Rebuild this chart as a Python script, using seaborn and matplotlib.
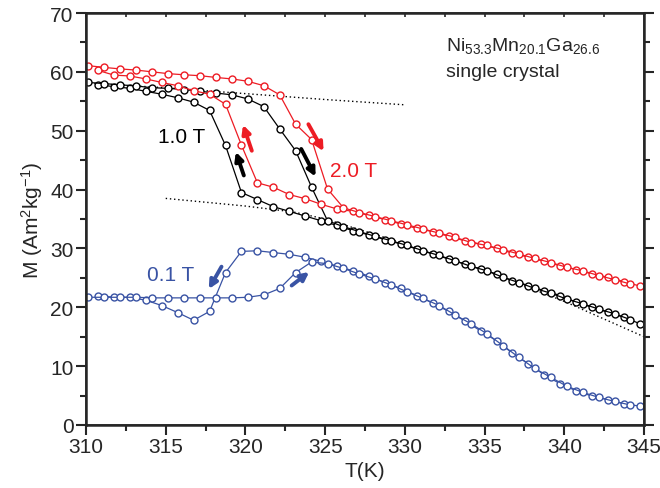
import matplotlib
matplotlib.use("Agg")
import matplotlib.pyplot as plt
import numpy as np
import pandas as pd
import seaborn as sns
from matplotlib.ticker import MultipleLocator

# temperatures of the two sweeps (heating / cooling), K
T_heat = [310.15, 311.15, 312.15, 313.15, 314.15, 315.15, 316.15, 317.15, 318.15, 319.15,
          320.15, 321.15, 322.15, 323.15, 324.15, 325.15, 326.15, 327.15, 328.15, 329.15,
          330.15, 331.15, 332.15, 333.15, 334.15, 335.15, 336.15, 337.15, 338.15, 339.15,
          340.15, 341.15, 342.15, 343.15, 344.15]
T_cool = [310.75, 311.75, 312.75, 313.75, 314.75, 315.75, 316.75, 317.75, 318.75, 319.75,
          320.75, 321.75, 322.75, 323.75, 324.75, 325.75, 326.75, 327.75, 328.75, 329.75,
          330.75, 331.75, 332.75, 333.75, 334.75, 335.75, 336.75, 337.75, 338.75, 339.75,
          340.75, 341.75, 342.75, 343.75, 344.75]

# 1.0 T
M10_heat = [58.2, 58.0, 57.8, 57.6, 57.3, 57.2, 57.0, 56.7, 56.4, 56.1,
            55.4, 54.1, 50.3, 46.6, 40.4, 34.7, 33.7, 32.85, 32.05, 31.3,
            30.5, 29.6, 28.8, 27.9, 26.95, 26.2, 25.1, 24.2, 23.2, 22.4,
            21.4, 20.6, 19.7, 18.9, 17.9]
M10_cool = [57.8, 57.5, 57.2, 56.7, 56.2, 55.6, 54.85, 53.45, 47.5, 39.5,
            38.3, 37.1, 36.3, 35.5, 34.7, 33.9, 33.0, 32.3, 31.5, 30.75,
            29.9, 29.05, 28.2, 27.35, 26.5, 25.65, 24.5, 23.7, 22.8, 22.0,
            20.85, 20.0, 19.15, 18.3, 17.2]
# 2.0 T
M20_heat = [61.05, 60.75, 60.5, 60.3, 60.0, 59.7, 59.5, 59.35, 59.05, 58.8,
            58.4, 57.65, 56.1, 51.1, 48.5, 40.1, 36.9, 36.1, 35.4, 34.7,
            34.0, 33.3, 32.6, 31.9, 31.0, 30.5, 29.8, 29.05, 28.3, 27.6,
            26.8, 26.2, 25.4, 24.7, 23.95]
M20_cool = [60.25, 59.45, 59.3, 58.8, 58.2, 57.65, 56.8, 56.2, 54.5, 47.55,
            41.15, 40.4, 39.15, 38.45, 37.5, 36.7, 36.3, 35.6, 34.9, 34.15,
            33.4, 32.85, 32.05, 31.3, 30.75, 30.0, 29.2, 28.5, 27.8, 27.05,
            26.4, 25.65, 25.1, 24.35, 23.6]
# 0.1 T
M01_heat = [21.7, 21.7, 21.7, 21.7, 21.6, 21.6, 21.6, 21.6, 21.6, 21.6,
            21.7, 22.1, 23.2, 25.9, 27.7, 27.4, 26.6, 25.65, 24.8, 23.8,
            22.6, 21.5, 20.3, 18.7, 17.2, 15.5, 13.5, 11.5, 9.6, 8.1,
            6.6, 5.55, 4.7, 4.0, 3.4]
M01_cool = [22.0, 21.7, 21.7, 21.2, 20.3, 19.1, 17.8, 19.3, 25.9, 29.5,
            29.6, 29.3, 29.0, 28.5, 27.8, 27.0, 26.2, 25.3, 24.2, 23.2,
            22.0, 20.7, 19.3, 17.7, 16.0, 14.3, 12.2, 10.4, 8.5, 7.0,
            5.8, 4.9, 4.3, 3.6, 3.2]

# dotted guide curves
T_dot_hi = [310, 315, 320, 325, 330]
M_dot_hi = [58.1, 57.3, 56.3, 55.3, 54.4]
T_dot_lo = [315, 320, 323, 325, 330, 335, 340, 345]
M_dot_lo = [38.5, 37.2, 36.2, 35.0, 30.8, 26.3, 21.0, 15.0]

colors = {"1.0 T": "#000000", "2.0 T": "#ed1c24", "0.1 T": "#3953a4"}

# arrows: (field, T_start, M_start, T_end, M_end)
arrows = [("1.0 T", 319.9, 42.4, 319.4, 46.4),
          ("1.0 T", 323.5, 46.9, 324.4, 42.2),
          ("2.0 T", 320.4, 46.6, 319.85, 51.0),
          ("2.0 T", 323.95, 51.1, 324.9, 46.5),
          ("0.1 T", 318.5, 26.9, 317.7, 23.1),
          ("0.1 T", 322.9, 23.7, 324.0, 26.0)]
labels = [("1.0 T", 316.0, 49.0), ("2.0 T", 326.8, 43.2), ("0.1 T", 315.3, 25.5)]

rows = []
for field, mh, mc in [("1.0 T", M10_heat, M10_cool), ("2.0 T", M20_heat, M20_cool),
                      ("0.1 T", M01_heat, M01_cool)]:
    for t, m in zip(T_heat, mh):
        rows.append((field, "heat", t, m))
    for t, m in zip(T_cool, mc):
        rows.append((field, "cool", t, m))
df = pd.DataFrame(rows, columns=["field", "branch", "T", "M"])

sns.set_theme(style="ticks")
plt.rcParams["font.family"] = ["Liberation Sans", "DejaVu Sans"]
plt.rcParams["mathtext.fontset"] = "custom"
plt.rcParams["mathtext.rm"] = "Liberation Sans"
plt.rcParams["mathtext.it"] = "Liberation Sans:italic"

fig = plt.figure(figsize=(6.6, 4.89), dpi=100)
ax = fig.add_axes([86 / 660, 1 - 426 / 489, 558 / 660, 412 / 489])

ax.plot(T_dot_hi, M_dot_hi, color="black", lw=1, dashes=(1, 2))
ax.plot(T_dot_lo, M_dot_lo, color="black", lw=1, dashes=(1, 2))

for field in ["0.1 T", "1.0 T", "2.0 T"]:
    c = colors[field]
    sns.lineplot(data=df[df.field == field], x="T", y="M", units="branch",
                 estimator=None, sort=False, color=c, lw=0.9, marker="o",
                 ms=5, mfc="white", mec=c, mew=1.0, ax=ax, legend=False)

for field, x0, y0, x1, y1 in arrows:
    ax.annotate("", xy=(x1, y1), xytext=(x0, y0),
                arrowprops=dict(arrowstyle="-|>", color=colors[field], lw=2.8,
                                mutation_scale=12, shrinkA=0, shrinkB=0))
for field, x, y in labels:
    ax.text(x, y, field, color=colors[field], fontsize=15, ha="center", va="center")

ax.text(332.6, 64.6, r"$\mathrm{Ni}_{53.3}\mathrm{Mn}_{20.1}\mathrm{Ga}_{26.6}$",
        fontsize=14, ha="left", va="center")
ax.text(332.6, 60.1, "single crystal", fontsize=14, ha="left", va="center")

ax.set_xlim(310, 345)
ax.set_ylim(0, 70)
ax.xaxis.set_major_locator(MultipleLocator(5))
ax.xaxis.set_minor_locator(MultipleLocator(2.5))
ax.yaxis.set_major_locator(MultipleLocator(10))
ax.yaxis.set_minor_locator(MultipleLocator(5))
ax.set_xlabel("T(K)", fontsize=15, labelpad=3)
ax.set_ylabel(r"M (Am$^2$kg$^{-1}$)", fontsize=15, labelpad=4)
ax.tick_params(axis="both", which="major", direction="out", length=7, width=1.5,
               labelsize=15, pad=2)
ax.tick_params(axis="both", which="minor", direction="out", length=4, width=1.5)
ax.tick_params(axis="y", which="both", right=True)
for s in ax.spines.values():
    s.set_linewidth(1.8)
    s.set_visible(True)

top = ax.twiny()
top.set_xlim(310, 345)
top.xaxis.set_major_locator(MultipleLocator(5))
top.xaxis.set_minor_locator(MultipleLocator(2.5))
top.tick_params(axis="x", which="both", direction="in", length=3, width=1.2,
                labeltop=False)

fig.savefig("out.png", dpi=100)
